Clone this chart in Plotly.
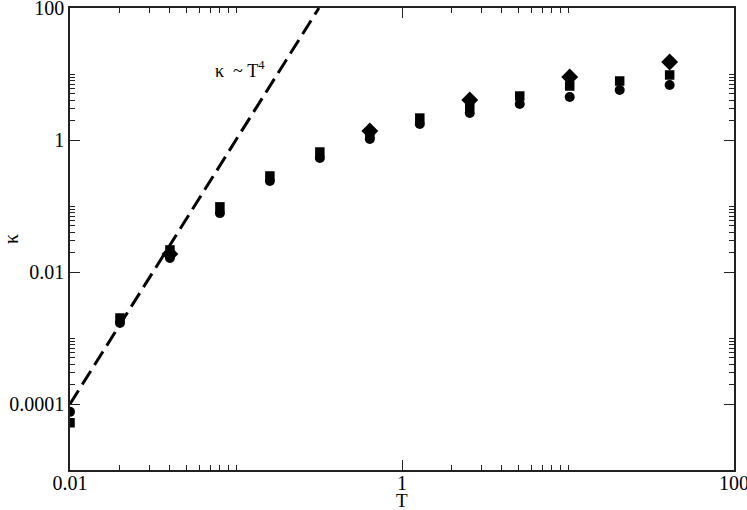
import plotly.graph_objects as go

# Data
T = [0.01, 0.02, 0.04, 0.08, 0.16, 0.32, 0.64, 1.28, 2.56, 5.12, 10.24, 20.48, 40.96]
kappa_circle = [7.6e-5, 1.69e-3, 0.0163, 0.078, 0.239, 0.533, 1.04, 1.75, 2.57, 3.51, 4.48, 5.72, 6.81]
kappa_square = [5.2e-5, 2.01e-3, 0.0216, 0.097, 0.285, 0.658, 1.23, 2.15, 3.27, 4.64, 6.58, 7.83, 9.66]
T_diamond = [0.04, 0.64, 2.56, 10.24, 40.96]
kappa_diamond = [0.0187, 1.37, 4.04, 9.0, 15.2]
line_T = [0.01, 0.316]
line_kappa = [1e-4, 100]

x_major = [0.01, 1, 100]
y_major = [0.0001, 0.01, 1, 100]
y_major_text = ["0.0001", "0.01", "1", "100"]
x_major_text = ["0.01", "1", "100"]
mult = [2, 3, 4, 5, 6, 7, 8, 9, 10]
x_minor = [k * m for m in [0.01, 1] for k in mult]
y_minor = [k * m for m in [0.0001, 0.01, 1] for k in mult]

FONT = "Liberation Serif"

fig = go.Figure()
fig.add_trace(go.Scatter(x=line_T, y=line_kappa, mode="lines",
                         line=dict(color="black", width=3, dash="16px,7px"),
                         showlegend=False, hoverinfo="skip"))
fig.add_trace(go.Scatter(x=T, y=kappa_circle, mode="markers",
                         marker=dict(symbol="circle", size=10, color="black"), showlegend=False))
fig.add_trace(go.Scatter(x=T, y=kappa_square, mode="markers",
                         marker=dict(symbol="square", size=9.5, color="black"), showlegend=False))
fig.add_trace(go.Scatter(x=T_diamond, y=kappa_diamond, mode="markers",
                         marker=dict(symbol="diamond", size=13, color="black"), showlegend=False))

axis_common = dict(
    type="log", showgrid=False, zeroline=False, automargin=False,
    ticklabeloverflow="allow",
    showline=True, linecolor="#222", linewidth=1.5, mirror="allticks",
    ticks="inside", ticklen=10, tickwidth=1.3, tickcolor="#222",
    tickfont=dict(family=FONT, size=20, color="black"),
)

fig.update_layout(
    width=747, height=510,
    margin=dict(l=70, r=13, t=8, b=40),
    paper_bgcolor="white", plot_bgcolor="white",
    font=dict(family=FONT, color="black"),
    xaxis=dict(**axis_common, range=[-2, 2], tickmode="array", tickvals=x_major, ticktext=x_major_text,
               ticklabelstandoff=-6,
               minor=dict(tickmode="array", tickvals=x_minor, ticks="inside", ticklen=5,
                          tickwidth=1.3, tickcolor="#222", showgrid=False)),
    yaxis=dict(**axis_common, range=[-5, 2], tickmode="array", tickvals=y_major, ticktext=y_major_text,
               minor=dict(tickmode="array", tickvals=y_minor, ticks="inside", ticklen=5,
                          tickwidth=1.3, tickcolor="#222", showgrid=False)),
    annotations=[
        dict(x=-0.975, y=1.061, xref="x", yref="y", showarrow=False,
             text="κ  ~ T<sup>4</sup>", font=dict(family=FONT, size=18, color="black")),
        dict(x=0.5, y=0, xref="paper", yref="paper", yshift=-30, xanchor="center", yanchor="middle",
             showarrow=False, text="T", font=dict(family=FONT, size=19, color="black")),
        dict(x=0, y=0.5, xref="paper", yref="paper", xshift=-59, xanchor="center", yanchor="middle",
             textangle=-90, showarrow=False,
             text="κ", font=dict(family=FONT, size=20, color="black")),
    ],
)

fig.write_html("out.html", config={"displayModeBar": False},
               post_script="document.body.style.margin='0';document.body.style.overflow='hidden';")
